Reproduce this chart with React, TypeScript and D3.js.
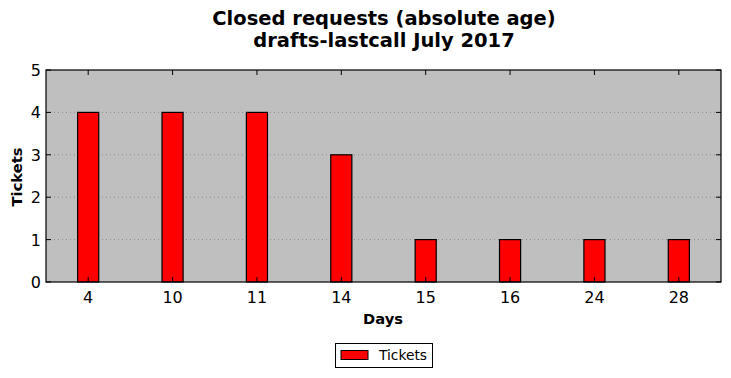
import React from "react";
import * as d3 from "d3";

const categories = ["4", "10", "11", "14", "15", "16", "24", "28"];
const tickets = [4, 4, 4, 3, 1, 1, 1, 1];
const yTicks = [0, 1, 2, 3, 4, 5];

export default function App() {
  const W = 731, H = 378;
  const left = 46, right = 721, top = 70, bottom = 282;
  const x = d3.scaleBand<string>().domain(categories).range([left, right]).padding(0);
  const y = d3.scaleLinear().domain([0, 5]).range([bottom, top]);
  const bw = x.bandwidth() * 0.25;
  const font = "DejaVu Sans, sans-serif";
  return (
    <svg width={W} height={H} style={{ position: "absolute", left: 0, top: 0 }} fontFamily={font}>
      <rect x={0} y={0} width={W} height={H} fill="white" />
      <text x={384} y={25} textAnchor="middle" fontSize={19.5} fontWeight="bold">Closed requests (absolute age)</text>
      <text x={384} y={47} textAnchor="middle" fontSize={19.5} fontWeight="bold">drafts-lastcall July 2017</text>
      <rect x={left} y={top} width={right - left} height={bottom - top} fill="#bfbfbf" />
      {yTicks.slice(1, -1).map((t) => (
        <line key={"g" + t} x1={left} x2={right} y1={y(t)} y2={y(t)} stroke="#8c8c8c" strokeWidth={1} strokeDasharray="1,3" />
      ))}
      {categories.map((c, i) => {
        const cx = x(c)! + x.bandwidth() / 2;
        return (
          <rect key={c} x={cx - bw / 2} y={y(tickets[i])} width={bw} height={y(0) - y(tickets[i])} fill="#ff0000" stroke="black" strokeWidth={1.2} />
        );
      })}
      {categories.map((c) => {
        const cx = x(c)! + x.bandwidth() / 2;
        return (
          <g key={"t" + c}>
            <line x1={cx} x2={cx} y1={top} y2={top + 5} stroke="black" />
            <line x1={cx} x2={cx} y1={bottom} y2={bottom - 5} stroke="black" />
            <text x={cx} y={bottom + 20.5} textAnchor="middle" fontSize={16}>{c}</text>
          </g>
        );
      })}
      {yTicks.map((t) => (
        <g key={"y" + t}>
          <line x1={left} x2={left + 5} y1={y(t)} y2={y(t)} stroke="black" />
          <line x1={right} x2={right - 5} y1={y(t)} y2={y(t)} stroke="black" />
          <text x={left - 5} y={y(t) + 6} textAnchor="end" fontSize={16}>{t}</text>
        </g>
      ))}
      <rect x={left} y={top} width={right - left} height={bottom - top} fill="none" stroke="black" strokeWidth={1.2} />
      <text x={383} y={324} textAnchor="middle" fontSize={14.7} fontWeight="bold">Days</text>
      <text transform={`translate(22,177) rotate(-90)`} textAnchor="middle" fontSize={14.7} fontWeight="bold">Tickets</text>
      <rect x={335.5} y={343.5} width={97} height={24} fill="white" stroke="black" strokeWidth={1} />
      <rect x={341} y={350.5} width={27} height={9} fill="#ff0000" stroke="black" strokeWidth={1} />
      <text x={379} y={360} fontSize={13.8}>Tickets</text>
    </svg>
  );
}
